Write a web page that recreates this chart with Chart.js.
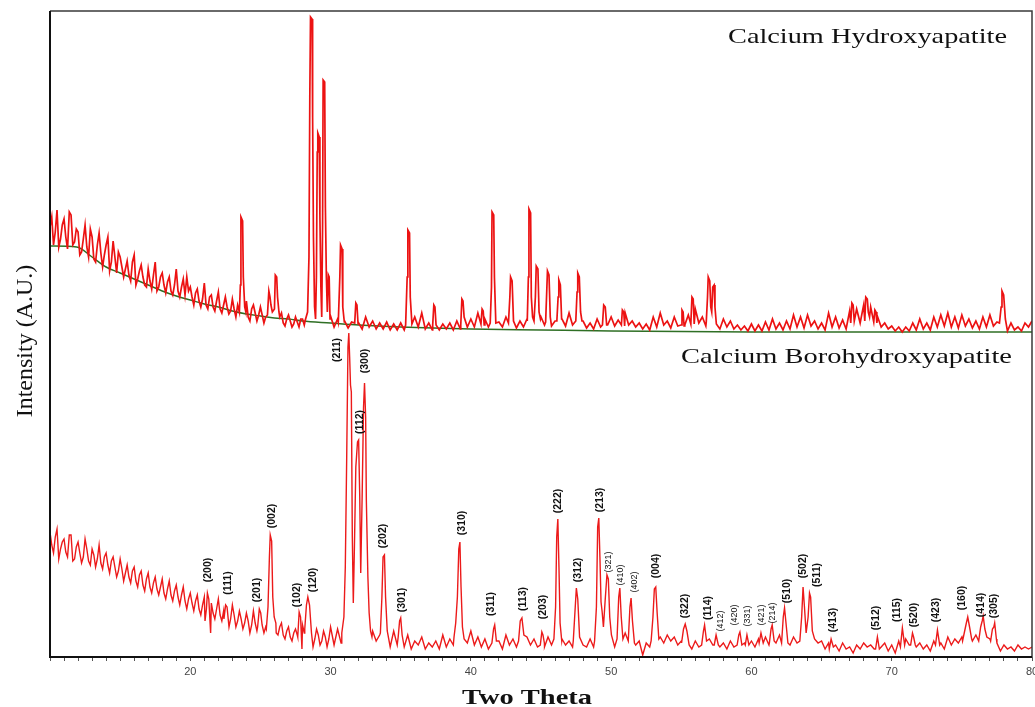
<!DOCTYPE html>
<html>
<head>
<meta charset="utf-8">
<script src="https://cdn.jsdelivr.net/npm/chart.js@4.4.0/dist/chart.umd.min.js"></script>
<style>
  html, body { margin: 0; padding: 0; background: #fff; }
  canvas { display: block; }
</style>
</head>
<body>
<canvas id="xrdChart" width="1035" height="707"></canvas>
<script>
// Background scans, sampled every 0.25° from 10° to 80° (intensity in arbitrary units)
const bgStart = 10;
const bgStep = 0.25;
// extra samples in the noisy low-angle region, 10.125°..29.875°
const midStart = 10.125;

const hapBg = [
  430,412,447,418,438,408,442,415,425,405,432,400,420,395,424,390,412,386,416,384,
  400,380,396,376,402,378,392,372,388,368,395,370,384,364,380,362,388,360,378,380,
  370,352,368,350,374,348,362,346,365,344,360,343,358,340,355,338,356,336,352,336,
  350,334,348,333,346,332,344,331,342,330,340,330,338,330,336,329,336,330,338,332,
  340,330,338,329,336,329,335,328,334,328,340,330,336,328,334,328,335,327,333,327,
  334,327,332,327,340,330,344,328,334,327,332,327,333,328,334,327,336,328,340,330,
  338,330,344,332,338,330,336,329,335,330,340,331,337,329,336,330,338,330,336,330,
  340,332,338,331,336,330,338,331,344,332,340,330,336,329,334,328,338,330,346,332,
  340,331,337,330,344,332,336,330,334,328,333,327,340,330,344,332,336,329,340,331,
  346,332,342,330,348,334,340,331,336,329,334,328,338,330,336,328,332,327,331,326,
  333,326,332,326,335,327,338,328,334,327,336,328,342,330,340,329,342,331,336,328,
  334,327,344,330,340,329,337,328,346,332,348,334,352,336,350,334,340,330,334,328,
  331,326,330,325,330,326,334,327,338,328,334,327,340,330,342,331,344,330,340,329,
  342,331,338,329,336,328,340,330,342,331,335,328,332,326,334,327,330,326,334,330,
  336
];
const hapBgMid = [
  440,425,410,432,420,445,412,428,402,418,410,428,398,412,404,402,420,395,400,405,
  390,388,382,395,372,386,380,370,376,382,366,380,372,375,366,372,366,370,362,366,
  360,364,356,358,352,360,350,356,348,352,350,346,348,352,345,344,340,348,344,342,
  342,340,338,344,336,340,334,338,336,333,335,338,332,334,331,336,332,335,330,334
];

const bhapBg = [
  125,104,128,108,118,100,122,98,115,94,118,96,108,90,112,88,104,84,100,80,
  98,76,92,74,90,70,86,66,84,64,80,62,78,58,76,56,72,52,70,48,
  64,46,62,42,60,40,54,38,58,36,48,32,52,30,46,28,44,24,46,26,
  42,24,40,30,38,22,34,18,30,16,28,14,32,12,30,10,28,12,26,10,
  30,12,28,14,34,20,30,26,30,40,36,30,26,16,22,12,20,10,26,12,
  18,10,22,8,16,12,20,8,14,10,16,8,22,10,18,12,20,10,24,14,
  26,12,20,10,18,8,14,10,16,8,22,12,18,10,14,8,20,12,18,10,
  16,10,20,12,22,14,18,12,16,10,14,8,12,10,18,10,20,12,22,14,
  18,10,20,12,24,14,20,12,16,2,14,10,18,12,20,14,22,16,20,12,
  16,10,14,8,16,10,14,8,18,12,16,10,14,8,16,10,20,12,14,8,
  16,10,18,12,20,12,18,14,22,16,18,12,20,14,16,10,24,18,20,14,
  16,8,14,10,12,6,14,8,10,4,12,8,14,10,12,8,16,10,14,6,
  12,4,16,10,18,12,16,10,14,8,12,6,16,10,14,8,20,12,18,14,
  20,14,24,16,22,14,20,12,18,10,14,6,12,8,10,6,12,8,10,8,
  10
];
const bhapBgMid = [
  112,120,98,115,105,122,96,110,104,100,108,92,102,98,94,100,92,96,90,86,
  88,84,80,86,76,82,72,78,70,74,68,70,64,68,62,66,60,62,56,58,
  54,56,48,52,46,50,44,48,42,46,40,38,42,36,38,34,36,32,34,30,
  32,30,28,34,24,30,22,26,20,24,22,18,24,16,20,18,22,16,20,18
];

// Peak profiles [2θ, intensity] — these replace the background over their span
const hapPeaks = [
  [[23.5,345],[23.57,372],[23.61,440],[23.73,436],[23.78,380],[23.88,350],[23.96,345]],
  [[25.5,342],[25.6,366],[25.68,360],[25.75,352],[25.85,345],[26.0,348],[26.06,382],[26.16,380],[26.22,360],[26.32,345]],
  [[28.2,337],[28.36,345],[28.46,400],[28.52,560],[28.57,640],[28.68,638],[28.72,540],[28.78,420],
   [28.86,350],[28.93,338],[28.99,380],[29.05,505],[29.09,524],[29.19,520],[29.24,440],[29.31,370],
   [29.37,340],[29.43,430],[29.47,577],[29.58,575],[29.63,450],[29.7,380],[29.77,345],
   [29.84,382],[29.9,380],[29.96,338],[30.02,340]],
  [[30.55,335],[30.66,380],[30.71,412],[30.82,408],[30.87,350],[30.98,335]],
  [[31.72,334],[31.8,354],[31.88,352],[31.96,333]],
  [[35.35,332],[35.46,380],[35.51,427],[35.63,424],[35.68,360],[35.8,333]],
  [[37.28,332],[37.36,352],[37.44,350],[37.52,332]],
  [[39.28,332],[39.36,358],[39.44,356],[39.52,340]],
  [[40.72,333],[40.8,348],[40.88,346],[40.95,332]],
  [[41.38,334],[41.47,370],[41.51,445],[41.63,442],[41.68,380],[41.78,334]],
  [[42.68,334],[42.78,360],[42.83,380],[42.94,376],[43.04,336]],
  [[44.02,336],[44.1,380],[44.14,448],[44.26,444],[44.31,360],[44.4,340],[44.5,336],[44.6,360],
   [44.66,391],[44.78,388],[44.86,345],[44.96,338]],
  [[45.33,335],[45.42,370],[45.46,386],[45.57,382],[45.66,340]],
  [[46.13,336],[46.22,360],[46.27,377],[46.38,372],[46.47,338]],
  [[47.48,336],[47.57,365],[47.62,384],[47.73,380],[47.82,345],[47.92,336]],
  [[49.38,332],[49.47,352],[49.58,350],[49.68,332]],
  [[50.73,332],[50.8,347],[50.9,345],[50.96,331]],
  [[54.98,332],[55.05,347],[55.13,345],[55.2,331]],
  [[55.68,333],[55.76,360],[55.85,358],[55.92,333]],
  [[56.78,335],[56.87,360],[56.92,380],[57.03,376],[57.1,350],[57.17,345],[57.24,370],[57.34,372],[57.4,350],[57.5,333]],
  [[67.08,334],[67.16,354],[67.25,352],[67.33,336]],
  [[68.08,336],[68.15,360],[68.26,358],[68.33,345],[68.42,340]],
  [[68.72,335],[68.8,347],[68.88,345],[68.94,334]],
  [[77.68,334],[77.8,350],[77.86,366],[77.98,362],[78.1,338]]
];

const bhapPeaks = [
  [[21.05,36],[21.15,48],[21.22,64],[21.32,58],[21.45,24]],
  [[22.4,38],[22.52,52],[22.62,50],[22.76,30]],
  [[24.8,30],[24.92,48],[25.02,44],[25.12,32]],
  [[25.42,28],[25.54,50],[25.64,100],[25.7,122],[25.8,116],[25.88,60],[25.98,40],[26.1,34]],
  [[27.66,20],[27.76,45],[27.86,40],[27.96,8]],
  [[28.16,28],[28.28,52],[28.38,60],[28.5,52],[28.64,24]],
  [[30.8,24],[30.95,40],[31.05,90],[31.15,200],[31.24,310],[31.3,324],[31.36,300],[31.42,272],
   [31.48,265],[31.55,120],[31.62,54],[31.7,110],[31.8,190],[31.92,215],[32.0,217],[32.08,160],
   [32.15,84],[32.25,160],[32.35,250],[32.42,274],[32.5,240],[32.55,157],[32.66,80],[32.75,44],
   [32.85,26],[32.95,20]],
  [[33.55,24],[33.66,60],[33.74,100],[33.84,102],[33.92,60],[34.04,26]],
  [[34.82,20],[34.92,36],[35.0,39],[35.1,22]],
  [[38.8,20],[38.92,34],[39.04,60],[39.14,108],[39.22,115],[39.3,70],[39.4,30],[39.52,18]],
  [[41.5,14],[41.62,28],[41.7,32],[41.82,16]],
  [[43.4,16],[43.52,36],[43.64,39],[43.78,22]],
  [[44.95,12],[45.06,25],[45.14,22],[45.24,14]],
  [[45.92,18],[46.04,50],[46.12,120],[46.2,138],[46.28,90],[46.36,34],[46.48,16]],
  [[47.3,16],[47.42,45],[47.52,69],[47.62,58],[47.75,20]],
  [[48.82,16],[48.95,50],[49.04,130],[49.12,139],[49.2,100],[49.28,55],[49.36,45],[49.45,30],
   [49.58,58],[49.7,82],[49.8,78],[49.9,40],[50.02,22]],
  [[50.42,18],[50.54,60],[50.62,69],[50.72,40],[50.84,18]],
  [[51.22,16],[51.34,50],[51.42,59],[51.52,36],[51.66,14]],
  [[52.85,16],[52.98,40],[53.08,68],[53.18,70],[53.28,44],[53.4,18]],
  [[55.02,14],[55.16,28],[55.28,33],[55.4,26],[55.56,12]],
  [[56.45,12],[56.58,26],[56.66,32],[56.8,16]],
  [[57.35,12],[57.48,22],[57.64,12]],
  [[58.98,12],[59.1,22],[59.18,25],[59.32,12]],
  [[59.56,12],[59.68,22],[59.82,12]],
  [[60.55,14],[60.68,24],[60.84,14]],
  [[61.28,14],[61.4,28],[61.48,32],[61.62,16]],
  [[62.15,14],[62.27,40],[62.36,49],[62.45,36],[62.6,14]],
  [[63.45,16],[63.58,40],[63.68,70],[63.78,50],[63.9,24],[64.04,40],[64.14,64],[64.22,60],[64.34,26],[64.5,18]],
  [[65.55,8],[65.68,18],[65.84,10]],
  [[68.85,8],[68.98,20],[69.12,8]],
  [[70.62,10],[70.76,29],[70.92,12]],
  [[71.35,12],[71.48,24],[71.56,20],[71.68,12]],
  [[73.12,12],[73.26,27],[73.42,12]],
  [[75.05,16],[75.2,26],[75.32,34],[75.42,40],[75.55,30],[75.7,18]],
  [[76.2,16],[76.34,30],[76.45,36],[76.52,41],[76.64,28],[76.78,20]],
  [[77.05,16],[77.18,28],[77.28,30],[77.34,34],[77.46,18]]
];

// Fitted background of the hydroxyapatite scan (green)
const hapBaseline = [
  [10,411],[11.9,410],[13,400],[14,390],[15,384],[16,378],[17,372],[18,366],[19,361],[20,357],
  [21,353],[22,350],[23,346],[24,343],[25,341],[26,339],[27,338],[28,336],[30,334],[32,332],
  [35,330],[40,328],[45,327],[50,326],[60,325],[70,325],[80,325]
];

// Miller indices [label, 2θ, intensity] of the borohydroxyapatite reflections
const peakLabels = [
  ["(200)",21.24,87],["(111)",22.67,74],["(201)",24.74,67],["(002)",25.8,141],
  ["(102)",27.58,62],["(120)",28.72,77],["(211)",30.44,307],["(112)",32.08,235],
  ["(300)",32.43,296],["(202)",33.72,121],["(301)",35.07,57],["(310)",39.35,134],
  ["(311)",41.42,53],["(113)",43.7,58],["(203)",45.12,50],["(222)",46.19,156],
  ["(312)",47.61,87],["(213)",49.18,157],["(321)",49.82,95],["(410)",50.67,82],
  ["(402)",51.67,75],["(004)",53.24,91],["(322)",55.24,51],["(114)",56.88,49],
  ["(412)",57.8,36],["(420)",58.8,42],["(331)",59.73,41],["(421)",60.73,42],
  ["(214)",61.51,44],["(510)",62.51,66],["(502)",63.65,91],["(511)",64.65,82],
  ["(413)",65.79,37],["(512)",68.92,39],["(115)",70.42,47],["(520)",71.63,42],
  ["(423)",73.2,47],["(160)",75.05,59],["(414)",76.4,52],["(305)",77.33,51]
];
const smallLabels = ["(321)","(410)","(402)","(412)","(420)","(331)","(421)","(214)"];

// assemble scan = background samples outside peak spans + peak points
function buildScan(bgSets, peaks) {
  const spans = peaks.map((p) => [p[0][0], p[p.length - 1][0]]);
  const pts = [];
  bgSets.forEach(([start, values]) => {
    values.forEach((y, i) => {
      const x = start + i * bgStep;
      if (!spans.some((s) => x >= s[0] && x <= s[1])) pts.push({ x, y });
    });
  });
  peaks.forEach((p) => p.forEach(([x, y]) => pts.push({ x, y })));
  return pts.sort((a, b) => a.x - b.x);
}

function stretchText(ctx, text, left, baseline, font, width) {
  ctx.save();
  ctx.font = font;
  const w = ctx.measureText(text).width;
  ctx.translate(left, baseline);
  ctx.scale(width / w, 1);
  ctx.textAlign = "left";
  ctx.textBaseline = "alphabetic";
  ctx.fillText(text, 0, 0);
  ctx.restore();
}

const decorPlugin = {
  id: "decor",
  afterDatasetsDraw(chart) {
    const { ctx, chartArea: a, scales } = chart;
    // frame
    ctx.save();
    ctx.strokeStyle = "#3a3a3a";
    ctx.lineWidth = 1.5;
    ctx.beginPath();
    ctx.moveTo(a.left, a.top);
    ctx.lineTo(a.right, a.top);
    ctx.lineTo(a.right, a.bottom);
    ctx.stroke();
    ctx.strokeStyle = "#111";
    ctx.lineWidth = 2;
    ctx.beginPath();
    ctx.moveTo(a.left, a.top);
    ctx.lineTo(a.left, a.bottom);
    ctx.lineTo(a.right, a.bottom);
    ctx.stroke();

    // hkl labels
    ctx.fillStyle = "#111";
    ctx.textAlign = "center";
    ctx.textBaseline = "middle";
    peakLabels.forEach(([t, x, y]) => {
      ctx.save();
      ctx.translate(scales.x.getPixelForValue(x), scales.y.getPixelForValue(y));
      ctx.rotate(-Math.PI / 2);
      ctx.font = smallLabels.includes(t)
        ? "9px 'Liberation Sans', Arial, sans-serif"
        : "bold 10.5px 'Liberation Sans', Arial, sans-serif";
      ctx.fillText(t, 0, 0);
      ctx.restore();
    });

    // texts
    ctx.fillStyle = "#111";
    const serif = "'Liberation Serif', 'Times New Roman', serif";
    stretchText(ctx, "Calcium Hydroxyapatite", 728, 43, "21px " + serif, 279);
    stretchText(ctx, "Calcium Borohydroxyapatite", 681, 363, "21px " + serif, 331);
    stretchText(ctx, "Two Theta", 462, 704, "bold 22px " + serif, 130);

    ctx.save();
    ctx.translate(32, 341);
    ctx.rotate(-Math.PI / 2);
    ctx.font = "24px " + serif;
    ctx.textAlign = "center";
    ctx.textBaseline = "alphabetic";
    ctx.fillText("Intensity (A.U.)", 0, 0);
    ctx.restore();
    ctx.restore();
  },
};

new Chart(document.getElementById("xrdChart").getContext("2d"), {
  type: "line",
  data: {
    datasets: [
      {
        label: "Calcium Borohydroxyapatite",
        data: buildScan([[bgStart, bhapBg], [midStart, bhapBgMid]], bhapPeaks),
        borderColor: "#ec1a1a",
        borderWidth: 1.4,
        pointRadius: 0,
        tension: 0,
      },
      {
        label: "Calcium Hydroxyapatite",
        data: buildScan([[bgStart, hapBg], [midStart, hapBgMid]], hapPeaks),
        borderColor: "#ec1212",
        borderWidth: 1.7,
        pointRadius: 0,
        tension: 0,
      },
      {
        label: "Background",
        data: hapBaseline.map(([x, y]) => ({ x, y })),
        borderColor: "#2f6f25",
        borderWidth: 1.5,
        pointRadius: 0,
        cubicInterpolationMode: "monotone",
      },
    ],
  },
  options: {
    responsive: false,
    animation: false,
    layout: { padding: { top: 11, right: 3, left: 0, bottom: 0 } },
    plugins: { legend: { display: false }, tooltip: { enabled: false } },
    scales: {
      x: {
        type: "linear",
        min: 10,
        max: 80,
        afterFit: (s) => {
          s.height = 50;
          s.paddingLeft = 0;
          s.paddingRight = 0;
        },
        border: { display: false },
        grid: { drawOnChartArea: false, drawTicks: true, tickLength: 4, color: "#555", lineWidth: 1 },
        ticks: {
          stepSize: 1,
          autoSkip: false,
          maxTicksLimit: 100,
          maxRotation: 0,
          padding: 4,
          color: "#444",
          font: { size: 11, family: "'Liberation Sans', Arial, sans-serif" },
          callback: (v) => (v % 10 === 0 && v !== 10 ? String(v) : ""),
        },
      },
      y: {
        min: 0,
        max: 646,
        afterFit: (s) => { s.width = 50; },
        border: { display: false },
        grid: { display: false },
        ticks: { display: false },
      },
    },
  },
  plugins: [decorPlugin],
});
</script>
</body>
</html>
